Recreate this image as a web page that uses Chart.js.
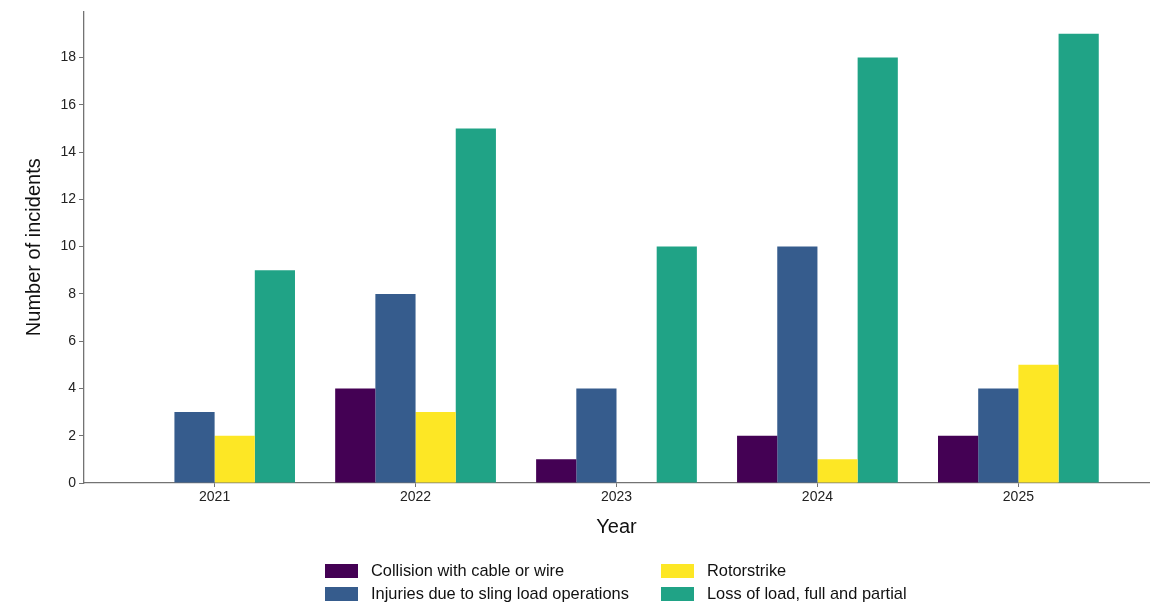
<!DOCTYPE html>
<html>
<head>
<meta charset="utf-8">
<script src="https://cdn.jsdelivr.net/npm/chart.js@4"></script>
<style>
  body { margin: 0; background: #fff; font-family: "Liberation Sans", Arial, sans-serif; }
  #wrap { position: relative; width: 1164px; height: 604px; }
  #legend { position: absolute; left: 325px; top: 561px; display: grid;
            grid-template-columns: 336px auto; row-gap: 4px; font-size: 16.4px; color: #111; }
  .item { display: flex; align-items: center; height: 19px; }
  .sw { width: 33px; height: 14px; margin-right: 13px; }
</style>
</head>
<body>
<div id="wrap">
  <canvas id="chart" width="1164" height="604"></canvas>
  <div id="legend"></div>
</div>
<script>
// Data
const years = [2021, 2022, 2023, 2024, 2025];
const collision = [0, 4, 1, 2, 2];
const injuries = [3, 8, 4, 10, 4];
const rotorstrike = [2, 3, 0, 1, 5];
const lossOfLoad = [9, 15, 10, 18, 19];

const seriesNames = ['Collision with cable or wire', 'Injuries due to sling load operations', 'Rotorstrike', 'Loss of load, full and partial'];
const seriesColors = ['#440154', '#365c8d', '#fde725', '#20a386'];
const seriesValues = [collision, injuries, rotorstrike, lossOfLoad];

const axisColor = '#737373';
const tickFont = { family: 'Liberation Sans', size: 14 };
const titleFont = { family: 'Liberation Sans', size: 20 };

const chart = new Chart(document.getElementById('chart'), {
  type: 'bar',
  data: {
    datasets: seriesValues.map((vals, k) => ({
      label: seriesNames[k],
      data: vals.map((v, i) => ({ x: years[i], y: v })),
      backgroundColor: seriesColors[k],
      borderWidth: 0,
      categoryPercentage: 0.8,
      barPercentage: 1.0
    }))
  },
  options: {
    responsive: false,
    animation: false,
    layout: { padding: { left: 0, right: 15, top: 7, bottom: 61 } },
    plugins: { legend: { display: false }, tooltip: { enabled: false } },
    scales: {
      x: {
        type: 'linear',
        offset: false,
        min: 2020.35,
        max: 2025.65,
        afterBuildTicks: (axis) => { axis.ticks = years.map(y => ({ value: y })); },
        afterFit: (axis) => { axis.height = 60; },
        ticks: { callback: (v) => String(v), color: '#222', font: tickFont, padding: 2, maxRotation: 0 },
        grid: { offset: false, drawOnChartArea: false, drawTicks: true, tickLength: 4, color: axisColor },
        border: { color: axisColor, width: 1.3 },
        title: { display: true, text: 'Year', color: '#111', font: titleFont, padding: { top: 0, bottom: 4 } }
      },
      y: {
        min: 0,
        max: 19.95,
        afterFit: (axis) => { axis.width = 84; },
        ticks: { stepSize: 2, includeBounds: false, color: '#222', font: tickFont, padding: 3 },
        grid: { drawOnChartArea: false, drawTicks: true, tickLength: 5, color: axisColor },
        border: { color: axisColor, width: 1.3 },
        title: { display: true, text: 'Number of incidents', color: '#111', font: titleFont, padding: { top: 22, bottom: 0 } }
      }
    }
  }
});

// Legend in two columns, filled column by column
const legend = document.getElementById('legend');
[0, 2, 1, 3].forEach(k => {
  const item = document.createElement('div');
  item.className = 'item';
  item.innerHTML = '<span class="sw" style="background:' + seriesColors[k] + '"></span><span>' + seriesNames[k] + '</span>';
  legend.appendChild(item);
});
</script>
</body>
</html>
